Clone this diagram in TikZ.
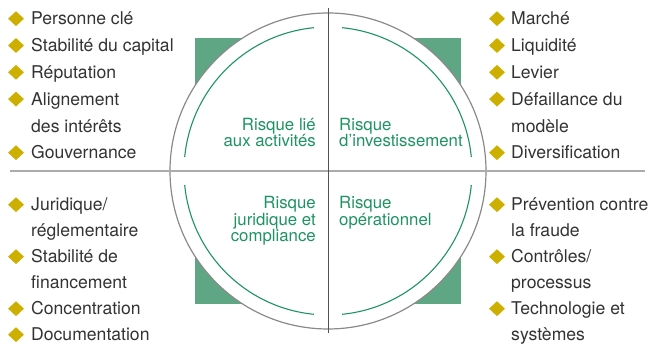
\documentclass[tikz,border=0pt]{standalone}
\usepackage{fontspec}
\setmainfont{TeX Gyre Heros}
\usepackage{tikz}
\usetikzlibrary{shapes.geometric}
\definecolor{vertfond}{HTML}{5EA684}
\definecolor{vertrisque}{HTML}{1F9463}
\definecolor{orpuce}{HTML}{CDAF00}
\definecolor{textegris}{HTML}{333333}
\definecolor{traitgris}{HTML}{8A8A8A}
\tikzset{
  puce/.style={diamond,fill=orpuce,inner sep=0pt,minimum width=16pt,minimum height=15pt},
  item/.style={anchor=base west,inner sep=0pt,text=textegris,font=\fontsize{17.6}{26}\selectfont},
  risque/.style={inner sep=0pt,text=vertrisque,font=\fontsize{16.8}{16.3}\selectfont},
}

\begin{document}
\begin{tikzpicture}[x=1pt,y=1pt]
  \useasboundingbox (0,0) rectangle (651,344);

  % Square and circle
  \fill[vertfond] (195,40) rectangle (461,306);
  \node[draw=traitgris,line width=1.2pt,circle,fill=white,minimum size=316pt,inner sep=0pt] (cercle) at (328,173) {};

  % Axes
  \coordinate (hg) at (10,173);
  \coordinate (hd) at (645,173);
  \coordinate (vh) at (328,336);
  \coordinate (vb) at (328,11);
  \draw[line width=1.6pt,black!33] (hg) -- (hd);
  \draw[line width=0.9pt,black!68] (vh) -- (vb);

  % Inner arcs, one per quadrant
  \foreach \a in {0,90,180,270}
    \draw[vertrisque,line width=1.1pt] (cercle.center) ++(\a+5.6:144)
      arc[start angle=\a+5.6, end angle=\a+84.4, radius=144];

  % Risk labels (base = last line)
  \node[risque,anchor=base east,align=right] (activites) at (316,197) {Risque lié\\aux activités};
  \node[risque,anchor=base west,align=left] (invest) at (339,197) {Risque\\d’investissement};
  \node[risque,anchor=base east,align=right] (juridique) at (316,102.4) {Risque\\juridique et\\compliance};
  \node[risque,anchor=base west,align=left] (operationnel) at (339,118.7) {Risque\\opérationnel};

  % Lists
  \foreach \y/\t/\p [count=\i] in {319/Personne clé/1, 292.2/Stabilité du capital/1,
      265.4/Réputation/1, 238.6/Alignement/1, 211.8/des intérêts/0, 185/Gouvernance/1}{
    \node[item] (ag\i) at (31,\y) {\t};
    \ifnum\p=1 \node[puce] (pg\i) at (16,\y+6.3) {}; \fi
  }
  \foreach \y/\t/\p [count=\i] in {319/Marché/1, 292.2/Liquidité/1,
      265.4/Levier/1, 238.6/Défaillance du/1, 211.8/modèle/0, 185/Diversification/1}{
    \node[item] (ai\i) at (511,\y) {\t};
    \ifnum\p=1 \node[puce] (pi\i) at (497,\y+6.3) {}; \fi
  }
  \foreach \y/\t/\p [count=\i] in {133/{Juridique/}/1, 107/réglementaire/0,
      81/Stabilité de/1, 55/financement/0, 29/Concentration/1, 3/Documentation/1}{
    \node[item] (aj\i) at (31,\y) {\t};
    \ifnum\p=1 \node[puce] (pj\i) at (16,\y+6.3) {}; \fi
  }
  \foreach \y/\t/\p [count=\i] in {133/Prévention contre/1, 107/la fraude/0,
      81/{Contrôles/}/1, 55/processus/0, 29/Technologie et/1, 3/systèmes/0}{
    \node[item] (ao\i) at (511,\y) {\t};
    \ifnum\p=1 \node[puce] (po\i) at (497,\y+6.3) {}; \fi
  }
\end{tikzpicture}
\end{document}
